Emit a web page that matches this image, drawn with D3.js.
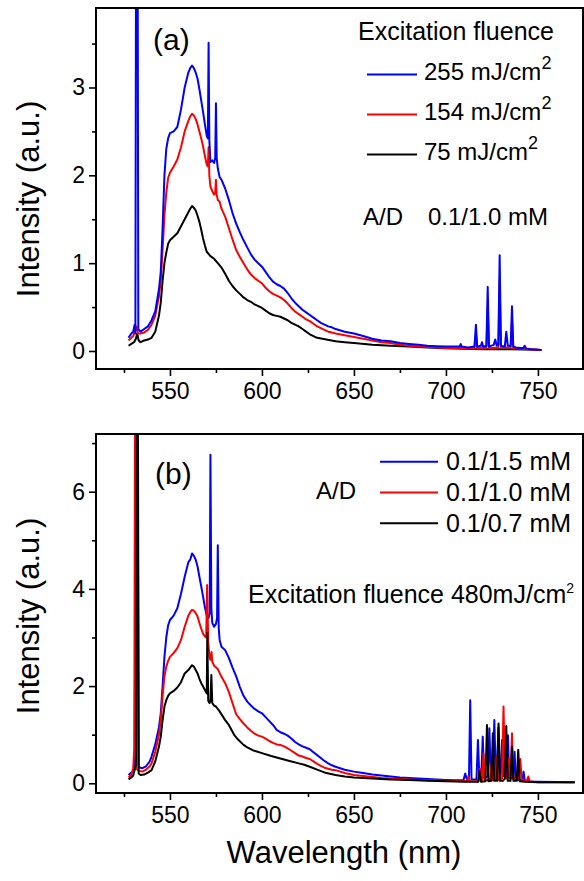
<!DOCTYPE html>
<html>
<head>
<meta charset="utf-8">
<script src="https://cdn.jsdelivr.net/npm/d3@7"></script>
<style>
    body { margin: 0; background: #fff; }
    svg { font-family: "Liberation Sans", Arial, sans-serif; }
</style>
</head>
<body>
<div id="chart"></div>
<script>
// Panel (a): excitation fluence series, [wavelength nm, intensity]
var aBlue = [[527.5,0.15],[529,0.2],[530,0.22],[530.8,0.3],[531.2,0.2],[531.6,5],[532.4,5],[532.8,0.25],[534,0.22],[536,0.25],[538,0.28],[540,0.35],[542,0.45],[544,0.7],[545,0.9],[546,1.4],[547,2.0],[548,2.3],[549,2.42],[550,2.48],[552,2.5],[554,2.55],[556,2.75],[558,3.0],[560,3.17],[561,3.22],[562,3.25],[563,3.22],[564,3.17],[565,3.1],[566,2.98],[567,2.85],[568,2.72],[569,2.58],[570,2.45],[570.6,2.42],[571,3.51],[571.4,2.4],[572,2.15],[573,2.17],[574,2.14],[574.6,2.2],[575,2.82],[575.4,2.2],[576,2.08],[577,1.98],[578,1.95],[580,1.85],[582,1.72],[584,1.57],[586,1.45],[588,1.35],[590,1.26],[592,1.18],[594,1.1],[596,1.04],[598,1.0],[600,0.96],[602,0.9],[604,0.84],[606,0.79],[608,0.76],[610,0.74],[612,0.71],[614,0.66],[616,0.6],[618,0.55],[620,0.51],[622,0.47],[624,0.44],[626,0.41],[628,0.38],[630,0.35],[632,0.32],[634,0.3],[636,0.28],[638,0.27],[640,0.25],[645,0.22],[650,0.2],[655,0.17],[660,0.14],[665,0.12],[670,0.11],[675,0.09],[680,0.08],[685,0.07],[690,0.06],[695,0.055],[700,0.05],[705,0.05],[707.5,0.05],[708,0.08],[708.5,0.05],[712,0.04],[715.5,0.05],[716.3,0.3],[717,0.05],[719,0.06],[719.6,0.1],[720.2,0.05],[722,0.06],[722.7,0.73],[723.4,0.05],[726,0.07],[726.8,0.13],[727.6,0.06],[728.5,0.07],[729.2,1.09],[729.9,0.06],[732,0.05],[732.8,0.22],[733.6,0.06],[735.2,0.06],[735.9,0.51],[736.6,0.05],[738,0.04],[742,0.03],[742.8,0.06],[743.5,0.03],[746,0.02],[752,0.01]];
var aRed = [[527.5,0.12],[529,0.15],[530,0.17],[531,0.22],[531.8,0.28],[532.6,0.2],[534,0.2],[536,0.21],[538,0.24],[540,0.3],[542,0.4],[544,0.62],[545,0.8],[546,1.15],[547,1.55],[548,1.8],[549,1.97],[550,2.03],[552,2.1],[554,2.18],[556,2.32],[558,2.5],[560,2.62],[561,2.67],[562,2.7],[563,2.68],[564,2.64],[565,2.58],[566,2.5],[567,2.42],[568,2.33],[569,2.22],[570,2.12],[570.6,2.1],[571,2.32],[571.4,2.0],[572,1.87],[573,1.82],[574,1.78],[574.6,1.8],[575,1.95],[575.4,1.78],[576,1.72],[577,1.7],[578,1.62],[580,1.53],[582,1.4],[584,1.27],[586,1.15],[588,1.07],[590,1.0],[592,0.93],[594,0.87],[596,0.83],[598,0.8],[600,0.77],[602,0.72],[604,0.68],[606,0.65],[608,0.63],[610,0.61],[612,0.58],[614,0.54],[616,0.49],[618,0.45],[620,0.42],[622,0.39],[624,0.36],[626,0.34],[628,0.31],[630,0.28],[632,0.26],[634,0.24],[636,0.22],[638,0.21],[640,0.2],[645,0.18],[650,0.16],[655,0.14],[660,0.12],[665,0.1],[670,0.09],[675,0.07],[680,0.06],[685,0.05],[690,0.045],[695,0.04],[700,0.035],[710,0.03],[715.5,0.03],[716.3,0.2],[717,0.03],[722,0.04],[722.7,0.5],[723.4,0.03],[728.5,0.04],[729.2,0.8],[729.9,0.04],[735.2,0.04],[735.9,0.35],[736.6,0.03],[745,0.02],[752,0.01]];
var aBlack = [[527.5,0.06],[529,0.08],[530.5,0.1],[531.5,0.14],[532.2,0.2],[533,0.12],[534,0.1],[536,0.12],[538,0.13],[540,0.15],[542,0.22],[544,0.4],[545,0.55],[546,0.8],[547,1.0],[548,1.12],[549,1.22],[550,1.26],[552,1.3],[554,1.34],[556,1.42],[558,1.5],[560,1.58],[561,1.62],[562,1.65],[563,1.63],[564,1.6],[565,1.54],[566,1.47],[567,1.38],[568,1.28],[569,1.2],[570,1.13],[572,1.08],[574,1.05],[576,1.0],[578,0.95],[580,0.88],[582,0.8],[584,0.74],[586,0.69],[588,0.65],[590,0.61],[592,0.58],[594,0.56],[596,0.53],[598,0.51],[600,0.49],[602,0.46],[604,0.43],[606,0.41],[608,0.4],[610,0.39],[612,0.37],[614,0.35],[616,0.32],[618,0.3],[620,0.28],[622,0.25],[624,0.22],[626,0.19],[628,0.17],[630,0.15],[635,0.13],[640,0.11],[645,0.1],[650,0.09],[660,0.07],[670,0.06],[680,0.05],[690,0.04],[700,0.03],[720,0.02],[735,0.02],[750,0.015]];

// Panel (b): A/D concentration series
var bBlue = [[527.5,0.17],[529,0.22],[530,0.26],[530.8,0.3],[531.6,7.5],[532.4,7.5],[533,0.33],[535,0.31],[537,0.35],[539,0.45],[540,0.55],[542,0.8],[544,1.15],[545,1.44],[546,2.0],[547,2.6],[548,3.0],[549,3.25],[550,3.36],[552,3.45],[554,3.6],[556,3.9],[558,4.25],[560,4.55],[561,4.6],[562,4.73],[563,4.68],[564,4.6],[565,4.46],[566,4.25],[567,4.05],[568,3.84],[569,3.62],[570,3.45],[571,3.4],[571.6,3.5],[572,6.76],[572.5,3.6],[573,3.3],[574,3.22],[575,3.28],[575.6,3.4],[576,4.9],[576.5,3.2],[577,2.95],[578,2.81],[580,2.74],[582,2.58],[584,2.38],[586,2.2],[588,1.98],[590,1.8],[592,1.68],[594,1.6],[596,1.53],[598,1.48],[600,1.44],[602,1.36],[604,1.28],[606,1.2],[608,1.1],[610,1.05],[612,1.02],[614,0.98],[616,0.92],[618,0.85],[620,0.8],[622,0.76],[624,0.73],[626,0.7],[628,0.64],[630,0.58],[632,0.52],[634,0.46],[636,0.41],[638,0.37],[640,0.34],[645,0.28],[650,0.24],[655,0.21],[660,0.18],[665,0.16],[670,0.14],[675,0.12],[680,0.11],[685,0.1],[690,0.09],[695,0.08],[700,0.07],[705,0.06],[709.5,0.06],[710.5,0.2],[711.5,0.06],[712.5,0.08],[713.2,1.71],[713.9,0.08],[716.6,0.08],[717.4,0.89],[718.2,0.1],[719.2,0.1],[720,0.96],[720.8,0.1],[722.8,0.15],[723.6,1.13],[724.4,0.15],[725.5,0.2],[726.3,1.3],[727.1,0.2],[727.8,0.3],[728.5,1.15],[729.2,0.2],[729.8,0.2],[730.5,0.89],[731.2,0.15],[733,0.15],[733.7,0.99],[734.4,0.12],[736.6,0.1],[737.3,0.65],[738,0.08],[741.5,0.06],[742.2,0.24],[742.9,0.05],[744.4,0.05],[745,0.08],[745.6,0.03],[750,0.03],[770,0.02]];
var bRed = [[527.5,0.12],[529,0.18],[530,0.3],[530.6,0.7],[531,7.5],[531.4,7.5],[531.8,0.3],[533,0.26],[535,0.24],[537,0.28],[539,0.35],[540,0.41],[542,0.65],[544,1.0],[545,1.3],[546,1.8],[547,2.2],[548,2.4],[549,2.52],[550,2.6],[552,2.68],[554,2.78],[556,2.95],[558,3.22],[560,3.45],[561,3.52],[562,3.57],[563,3.55],[564,3.5],[565,3.43],[566,3.3],[567,3.18],[568,3.08],[569,3.02],[569.7,3.0],[570.2,4.08],[570.8,2.9],[571.5,2.6],[572,2.54],[572.6,2.7],[573,2.5],[574,2.42],[576,2.35],[578,2.19],[580,2.06],[582,1.88],[584,1.65],[586,1.42],[588,1.32],[590,1.23],[592,1.15],[594,1.08],[596,1.02],[598,0.98],[600,0.96],[602,0.92],[604,0.87],[606,0.83],[608,0.8],[610,0.79],[612,0.76],[614,0.72],[616,0.67],[618,0.62],[620,0.57],[622,0.55],[624,0.52],[626,0.5],[628,0.45],[630,0.4],[632,0.36],[634,0.32],[636,0.3],[638,0.28],[640,0.27],[645,0.21],[650,0.17],[655,0.15],[660,0.13],[665,0.11],[670,0.1],[680,0.08],[690,0.06],[700,0.05],[711.5,0.04],[712.2,0.15],[712.9,0.04],[717.8,0.04],[718.6,0.3],[719.4,0.04],[719.8,0.1],[720.4,0.62],[721.1,0.05],[724,0.08],[724.8,0.4],[725.6,0.06],[727,0.08],[727.7,0.55],[728.4,0.06],[730.5,0.1],[731.3,1.58],[732.1,0.1],[733.2,0.1],[734,0.5],[734.6,0.1],[735.2,0.15],[735.9,1.03],[736.6,0.1],[739.5,0.08],[740.4,0.5],[741.2,0.06],[744,0.05],[744.8,0.14],[745.5,0.04],[750,0.02],[770,0.02]];
var bBlack = [[527.5,0.08],[529,0.12],[530,0.16],[531,0.3],[531.6,0.4],[532,7.5],[532.6,7.5],[533,0.2],[534,0.17],[536,0.18],[538,0.22],[540,0.27],[542,0.45],[544,0.75],[545,0.96],[546,1.3],[547,1.58],[548,1.71],[549,1.8],[550,1.85],[552,1.9],[554,1.97],[556,2.08],[558,2.26],[560,2.33],[561,2.38],[562,2.43],[563,2.4],[564,2.33],[565,2.26],[566,2.15],[567,2.06],[568,1.99],[569,1.92],[570,1.85],[570.3,3.09],[570.8,1.7],[571.5,1.65],[572,1.7],[572.5,2.23],[573,1.65],[574,1.6],[575,1.58],[577,1.48],[580,1.3],[582,1.2],[584,1.06],[585,0.99],[587,0.9],[590,0.79],[592,0.74],[595,0.68],[600,0.62],[605,0.56],[610,0.51],[615,0.46],[620,0.41],[623,0.38],[626,0.34],[630,0.28],[635,0.21],[640,0.17],[645,0.14],[650,0.12],[660,0.1],[670,0.08],[680,0.07],[690,0.05],[700,0.04],[710,0.03],[717.5,0.03],[718.3,0.25],[719.1,0.03],[721.5,0.04],[722.3,1.2],[723.1,0.04],[724.7,0.05],[725.5,1.03],[726.3,0.05],[727.8,0.05],[728.6,1.23],[729.4,0.05],[731,0.05],[732,0.1],[732.8,1.18],[733.6,0.05],[735.1,0.05],[735.9,0.75],[736.7,0.05],[738.5,0.05],[739.3,0.69],[740.1,0.04],[743,0.03],[750,0.02],[770,0.02]];

// ticks and labels
var xTicks = [550, 600, 650, 700, 750];
var xMinorTicks = [525, 575, 625, 675, 725];
var yTicksA = [0, 1, 2, 3];
var yMinorA = [0.5, 1.5, 2.5, 3.5];
var yTicksB = [0, 2, 4, 6];
var yMinorB = [1, 3, 5, 7];
var fluenceLabels = ["255 mJ/cm", "154 mJ/cm", "75 mJ/cm"];
var concLabels = ["0.1/1.5 mM", "0.1/1.0 mM", "0.1/0.7 mM"];
var seriesColors = ["#0000ff", "#ff0000", "#000000"];

var width = 584;
var height = 881;

var svg = d3.select('#chart')
    .append('svg')
    .attr('width', width)
    .attr('height', height);

var x = d3.scaleLinear().domain([509.8, 774.5]).range([96, 583]);

function drawPanel(cfg) {
    var y = d3.scaleLinear().domain(cfg.yDomain).range([cfg.bottom, cfg.top]);
    var g = svg.append('g');

    g.append('clipPath')
        .attr('id', cfg.id + 'clip')
        .append('rect')
        .attr('x', 96).attr('y', cfg.top)
        .attr('width', 583 - 96).attr('height', cfg.bottom - cfg.top);

    var line = d3.line()
        .x(d => x(d[0]))
        .y(d => y(d[1]));

    // series drawn in the given order (last on top)
    g.append('g')
        .attr('clip-path', 'url(#' + cfg.id + 'clip)')
        .selectAll('path')
        .data(cfg.order)
        .enter()
        .append('path')
        .attr('d', i => line(cfg.series[i]))
        .attr('fill', 'none')
        .attr('stroke', i => seriesColors[i])
        .attr('stroke-width', 2)
        .attr('stroke-linejoin', 'round');

    // x axis
    g.append('g')
        .attr('transform', 'translate(0,' + cfg.bottom + ')')
        .call(d3.axisBottom(x).tickValues(xTicks).tickSize(7).tickPadding(7).tickFormat(d3.format('d')));
    g.append('g')
        .attr('transform', 'translate(0,' + cfg.bottom + ')')
        .call(d3.axisBottom(x).tickValues(xMinorTicks).tickSize(4).tickFormat(''));

    // y axis
    g.append('g')
        .attr('transform', 'translate(96,0)')
        .call(d3.axisLeft(y).tickValues(cfg.yTicks).tickSize(7).tickPadding(4).tickFormat(d3.format('d')));
    g.append('g')
        .attr('transform', 'translate(96,0)')
        .call(d3.axisLeft(y).tickValues(cfg.yMinor).tickSize(4).tickFormat(''));

    g.selectAll('.domain').remove();
    g.selectAll('.tick line').attr('stroke', '#000').attr('stroke-width', 1.6);
    g.selectAll('.tick text')
        .attr('fill', '#000')
        .style('font-family', '"Liberation Sans", Arial, sans-serif')
        .style('font-size', '23px');

    // frame
    g.append('rect')
        .attr('x', 96).attr('y', cfg.top)
        .attr('width', 583 - 96).attr('height', cfg.bottom - cfg.top)
        .attr('fill', 'none')
        .attr('stroke', '#000')
        .attr('stroke-width', 2);

    // y label
    g.append('text')
        .attr('transform', 'translate(39,' + cfg.yLabelY + ') rotate(-90)')
        .attr('text-anchor', 'middle')
        .style('font-size', '31px')
        .text('Intensity (a.u.)');

    // panel tag
    g.append('text')
        .attr('x', cfg.tagX).attr('y', cfg.tagY)
        .style('font-size', '30px')
        .text(cfg.tag);

    return g;
}

var gA = drawPanel({
    id: 'a', top: 8, bottom: 369, yDomain: [-0.205, 3.905],
    yTicks: yTicksA, yMinor: yMinorA,
    series: [aBlue, aRed, aBlack], order: [2, 1, 0],
    yLabelY: 199, tag: '(a)', tagX: 153, tagY: 50
});

var gB = drawPanel({
    id: 'b', top: 434, bottom: 793, yDomain: [-0.2, 7.187],
    yTicks: yTicksB, yMinor: yMinorB,
    series: [bBlue, bRed, bBlack], order: [0, 1, 2],
    yLabelY: 616, tag: '(b)', tagX: 155, tagY: 484
});

// legend (a)
gA.append('text')
    .attr('x', 358).attr('y', 40)
    .style('font-size', '25px')
    .text('Excitation fluence');

fluenceLabels.forEach(function (lab, i) {
    var ly = 74.5 + i * 40;
    gA.append('line')
        .attr('x1', 367).attr('x2', 417)
        .attr('y1', ly).attr('y2', ly)
        .attr('stroke', seriesColors[i])
        .attr('stroke-width', 2);
    var t = gA.append('text')
        .attr('x', 424).attr('y', ly + 5)
        .style('font-size', '24px');
    t.append('tspan').text(lab);
    t.append('tspan')
        .attr('dy', -11)
        .style('font-size', '18px')
        .text('2');
});

gA.append('text')
    .attr('x', 363).attr('y', 225)
    .style('font-size', '24px')
    .text('A/D');
gA.append('text')
    .attr('x', 428).attr('y', 225)
    .style('font-size', '24px')
    .text('0.1/1.0 mM');

// legend (b)
gB.append('text')
    .attr('x', 316).attr('y', 499)
    .style('font-size', '24px')
    .text('A/D');

concLabels.forEach(function (lab, i) {
    var ly = 461.7 + i * 30.8;
    gB.append('line')
        .attr('x1', 380).attr('x2', 438)
        .attr('y1', ly).attr('y2', ly)
        .attr('stroke', seriesColors[i])
        .attr('stroke-width', 2);
    gB.append('text')
        .attr('x', 446).attr('y', ly + 8.5)
        .style('font-size', '25px')
        .text(lab);
});

var exc = gB.append('text')
    .attr('x', 248).attr('y', 603)
    .style('font-size', '25px');
exc.append('tspan').text('Excitation fluence 480mJ/cm');
exc.append('tspan')
    .attr('dy', -10)
    .style('font-size', '14px')
    .text('2');

// x label
svg.append('text')
    .attr('x', 344).attr('y', 863)
    .attr('text-anchor', 'middle')
    .style('font-size', '31px')
    .text('Wavelength (nm)');
</script>
</body>
</html>
